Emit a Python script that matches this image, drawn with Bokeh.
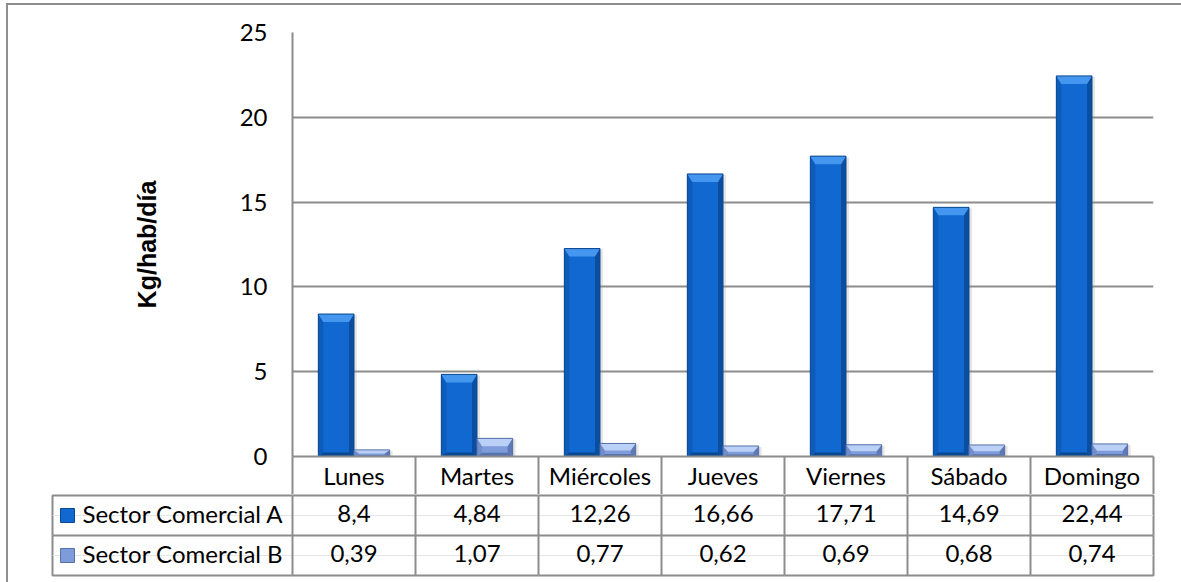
from bokeh.plotting import figure
from bokeh.layouts import column
from bokeh.models import Range1d, FixedTicker, Grid, ColumnDataSource
from bokeh.core.properties import value
from bokeh.embed import file_html
from bokeh.resources import INLINE

# Daily waste generation per inhabitant, two commercial sectors
days = ["Lunes", "Martes", "Miércoles", "Jueves", "Viernes", "Sábado", "Domingo"]
sector_a = [8.4, 4.84, 12.26, 16.66, 17.71, 14.69, 22.44]
sector_b = [0.39, 1.07, 0.77, 0.62, 0.69, 0.68, 0.74]
series_names = ["Sector Comercial A", "Sector Comercial B"]
y_ticks = [0, 5, 10, 15, 20, 25]

GRID = "#8c8c8c"
FONT = "Lato"
TXT = "24px"

# pixel geometry of the chart frame
FRAME_W, FRAME_H = 861, 424
CAT_PX = FRAME_W / len(days)
Y_MAX = 25
PX_X = 1.0 / CAT_PX          # category units per pixel
PX_Y = Y_MAX / FRAME_H       # value units per pixel

BAR_W = 0.29
OFFSETS = [-0.145, 0.145]

# face colours: body, top, left, right, bottom, edge
SHADES = [
    dict(body="#1068d0", top="#4496ee", left="#0d5cba", right="#0b4e9f", bottom="#0a4890", edge="#0a4890"),
    dict(body="#7e9cd9", top="#bad0f6", left="#708dcc", right="#5e79b6", bottom="#5872ac", edge="#5670a8"),
]

chart = figure(width=1173, height=489, output_backend="svg", toolbar_location=None,
               x_range=Range1d(0, len(days)), y_range=Range1d(0, Y_MAX),
               min_border_left=284, min_border_right=28, min_border_top=27, min_border_bottom=38,
               background_fill_color="white", border_fill_color="white", frame_align=False)
chart.outline_line_color = None
chart.xgrid.grid_line_color = None
chart.ygrid.ticker = FixedTicker(ticks=y_ticks)
chart.ygrid.grid_line_color = GRID
chart.ygrid.grid_line_width = 2

# y axis
ya = chart.yaxis[0]
ya.ticker = FixedTicker(ticks=y_ticks)
ya.axis_line_color = GRID
ya.axis_line_width = 2
ya.major_tick_line_color = None
ya.minor_tick_line_color = None
ya.major_tick_out = 0
ya.major_label_standoff = 25
ya.major_label_text_font = FONT
ya.major_label_text_font_size = TXT
ya.major_label_text_color = "black"
ya.axis_label = "Kg/hab/día"
ya.axis_label_text_font = "Liberation Sans"
ya.axis_label_text_font_style = "bold"
ya.axis_label_text_font_size = "25px"
ya.axis_label_text_color = "black"
ya.axis_label_standoff = 76

# x axis doubles as the header row of the data table
centers = [i + 0.5 for i in range(len(days))]
bounds = list(range(len(days) + 1))
xa = chart.xaxis[0]
xa.ticker = FixedTicker(ticks=centers, minor_ticks=bounds)
xa.major_label_overrides = {c: d for c, d in zip(centers, days)}
xa.axis_line_color = GRID
xa.axis_line_width = 2
xa.major_tick_line_color = None
xa.major_tick_out = 0
xa.major_tick_in = 0
xa.minor_tick_line_color = GRID
xa.minor_tick_line_width = 2
xa.minor_tick_out = 39
xa.minor_tick_in = 0
xa.major_label_standoff = -35
xa.major_label_text_font = FONT
xa.major_label_text_font_size = TXT
xa.major_label_text_color = "black"

# bevelled bars
sx = 5 * PX_X
for k, vals in enumerate([sector_a, sector_b]):
    sh = SHADES[k]
    x0s = [c + OFFSETS[k] - BAR_W / 2 for c in centers]
    x1s = [x + BAR_W for x in x0s]
    # soft drop shadow
    chart.quad(left=[x + 2 * PX_X for x in x0s], right=[x + 3 * PX_X for x in x1s],
               bottom=[0] * len(vals), top=[v - 1 * PX_Y for v in vals],
               fill_color="#9a9a9a", fill_alpha=0.25, line_color=None)
    chart.quad(left=x0s, right=x1s, bottom=[0] * len(vals), top=vals,
               fill_color=sh["body"], line_color=None)
    top_x, top_y, l_x, l_y, r_x, r_y, b_x, b_y = [], [], [], [], [], [], [], []
    for x0, x1, v in zip(x0s, x1s, vals):
        ht = min(8 * PX_Y, v * 0.55)
        hb = min(4 * PX_Y, v * 0.2)
        top_x.append([x0, x1, x1 - sx, x0 + sx]); top_y.append([v, v, v - ht, v - ht])
        l_x.append([x0, x0 + sx, x0 + sx, x0]); l_y.append([v, v - ht, hb, 0])
        r_x.append([x1, x1 - sx, x1 - sx, x1]); r_y.append([v, v - ht, hb, 0])
        b_x.append([x0, x1, x1 - sx, x0 + sx]); b_y.append([0, 0, hb, hb])
    chart.patches(l_x, l_y, fill_color=sh["left"], line_color=None)
    chart.patches(r_x, r_y, fill_color=sh["right"], line_color=None)
    chart.patches(b_x, b_y, fill_color=sh["bottom"], line_color=None)
    chart.patches(top_x, top_y, fill_color=sh["top"], line_color=None)
    chart.quad(left=x0s, right=x1s, bottom=[0] * len(vals), top=vals,
               fill_color=None, line_color=sh["edge"], line_width=1)

# data table rows beneath the chart
LEG_PX = 240
x_start = -LEG_PX / CAT_PX
table = figure(width=1173, height=88, output_backend="svg", toolbar_location=None,
               x_range=Range1d(x_start, len(days)), y_range=Range1d(0, 2),
               x_axis_location=None, y_axis_location=None,
               min_border_left=44, min_border_right=28, min_border_top=1, min_border_bottom=7,
               background_fill_color="white", border_fill_color="white", frame_align=False)
table.outline_line_color = GRID
table.outline_line_width = 2
table.add_layout(Grid(dimension=0, ticker=FixedTicker(ticks=bounds[:-1]),
                      grid_line_color=GRID, grid_line_width=2))
table.add_layout(Grid(dimension=1, ticker=FixedTicker(ticks=[1]),
                      grid_line_color=GRID, grid_line_width=2))

row_y = [1.5, 0.5]
for k, vals in enumerate([sector_a, sector_b]):
    labels = [f"{v:g}".replace(".", ",") for v in vals]
    src = ColumnDataSource(dict(x=centers, y=[row_y[k]] * len(vals), t=labels))
    table.text("x", "y", "t", source=src, text_align="center", text_baseline="middle",
               text_font=value(FONT), text_font_size=TXT, text_color="black", y_offset=-2)
    table.scatter([x_start + 15 * PX_X], [row_y[k]], marker="square", size=14,
                  fill_color=SHADES[k]["body"], line_color=SHADES[k]["edge"], line_width=1)
    table.text([x_start + 30 * PX_X], [row_y[k]], [series_names[k]], text_align="left",
               text_baseline="middle", text_font=value(FONT), text_font_size=TXT,
               text_color="black", y_offset=-2)

page = column(chart, table, spacing=0,
              styles={"margin-left": "6px", "margin-top": "3px",
                      "border-left": "2px solid #8e8e8e", "border-top": "2px solid #8e8e8e"})

open("out.html", "w").write(file_html(page, INLINE))
